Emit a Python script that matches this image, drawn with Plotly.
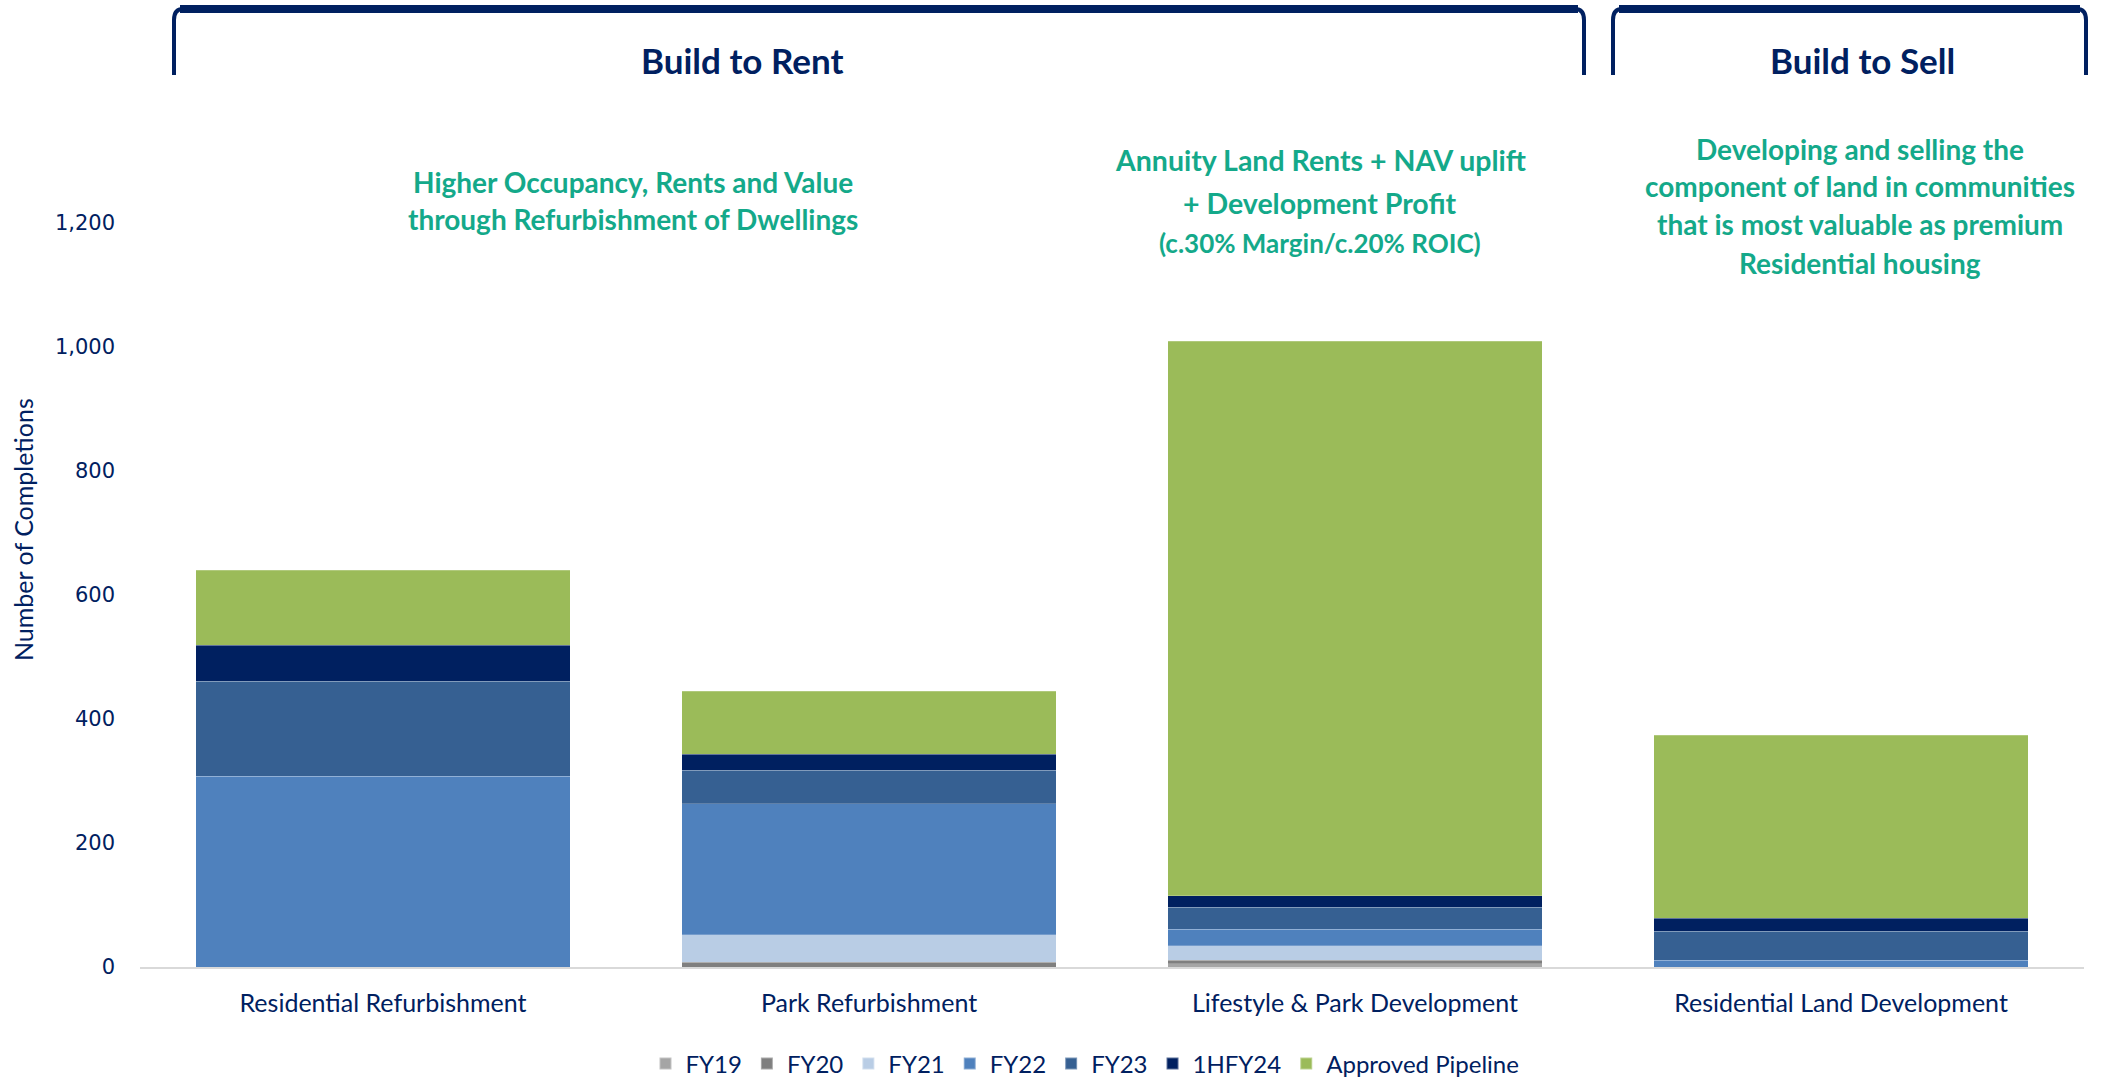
import plotly.graph_objects as go

# Completions by category (stacked by period)
categories = ["Residential Refurbishment", "Park Refurbishment",
              "Lifestyle & Park Development", "Residential Land Development"]
fy19 = [0, 0, 5, 0]
fy20 = [0, 8, 6, 0]
fy21 = [0, 44, 23, 0]
fy22 = [308, 211, 27, 11]
fy23 = [153, 54, 35, 47]
h1fy24 = [58, 26, 19, 21]
pipeline = [121, 102, 894, 295]

series_names = ["FY19", "FY20", "FY21", "FY22", "FY23", "1HFY24", "Approved Pipeline"]
series_values = [fy19, fy20, fy21, fy22, fy23, h1fy24, pipeline]
series_colors = ["#a5a5a5", "#7f7f7f", "#b9cde5", "#4f81bd", "#366092", "#002060", "#9bbb59"]

y_ticks = [0, 200, 400, 600, 800, 1000, 1200]
y_tick_text = ["0", "200", "400", "600", "800", "1,000", "1,200"]

group_labels = ["Build to Rent", "Build to Sell"]
note_rent = ["Higher Occupancy, Rents and Value", "through Refurbishment of Dwellings"]
note_dev = ["Annuity Land Rents + NAV uplift", "+ Development Profit", "(c.30% Margin/c.20% ROIC)"]
note_sell = ["Developing and selling the", "component of land in communities",
             "that is most valuable as premium", "Residential housing"]

W, H = 2103, 1078
ML, MR, MT, MB = 140, 19, 161, 111
PW, PH = W - ML - MR, H - MT - MB
NAVY = "#002060"
TEAL = "#14a98a"


def px_x(p):
    return (p - ML) / PW


def px_y(p):
    return (H - MB - p) / PH


fig = go.Figure()
for name, vals, col in zip(series_names, series_values, series_colors):
    fig.add_trace(go.Bar(
        x=categories, y=vals, name=name,
        marker=dict(color=col, line=dict(width=0.6, color="rgba(255,255,255,0.35)")),
        hoverinfo="name+y",
    ))

shapes = []
# group brackets across the top
for x0, x1 in [(174, 1584), (1613, 2086)]:
    path = (f"M {px_x(x0)},{px_y(75)} L {px_x(x0)},{px_y(20)} "
            f"Q {px_x(x0)},{px_y(9)} {px_x(x0 + 9)},{px_y(9)} "
            f"L {px_x(x1 - 9)},{px_y(9)} "
            f"Q {px_x(x1)},{px_y(9)} {px_x(x1)},{px_y(20)} L {px_x(x1)},{px_y(75)}")
    shapes.append(dict(type="path", xref="paper", yref="paper", path=path,
                       line=dict(color=NAVY, width=4)))
    shapes.append(dict(type="line", xref="paper", yref="paper",
                       x0=px_x(x0 + 6), x1=px_x(x1 - 6), y0=px_y(9), y1=px_y(9),
                       line=dict(color=NAVY, width=8)))

annotations = []
for text, cx in zip(group_labels, [742, 1862]):
    annotations.append(dict(text=f"<b>{text}</b>", x=px_x(cx), y=px_y(60),
                            xref="paper", yref="paper", showarrow=False,
                            xanchor="center", yanchor="middle",
                            font=dict(family="Lato", size=35, color=NAVY)))


def add_note(lines, cx, ys, sizes):
    for line, yy, sz in zip(lines, ys, sizes):
        annotations.append(dict(text=f"<b>{line}</b>", x=px_x(cx), y=px_y(yy),
                                xref="paper", yref="paper", showarrow=False,
                                xanchor="center", yanchor="middle",
                                font=dict(family="Lato", size=sz, color=TEAL)))


add_note(note_rent, 633, [182, 219], [28, 28])
add_note(note_dev, 1320, [160, 203, 243], [28.5, 28.5, 26])
add_note(note_sell, 1860, [149, 186, 224, 263], [28, 28, 28, 28])

annotations.append(dict(text="Number of Completions", textangle=-90,
                        x=px_x(23), y=px_y(530), xref="paper", yref="paper",
                        showarrow=False, xanchor="center", yanchor="middle",
                        font=dict(family="Lato", size=25, color=NAVY)))

fig.update_layout(
    width=W, height=H,
    margin=dict(l=ML, r=MR, t=MT, b=MB, autoexpand=False),
    barmode="stack", bargap=0.23,
    paper_bgcolor="white", plot_bgcolor="white",
    showlegend=True,
    legend=dict(orientation="h", traceorder="normal",
                x=px_x(1085), xanchor="center", y=px_y(1064), yanchor="middle",
                font=dict(family="Lato", size=24, color=NAVY),
                itemwidth=30, itemsizing="constant", bgcolor="rgba(0,0,0,0)"),
    shapes=shapes,
    annotations=annotations,
    xaxis=dict(showline=True, linecolor="#d9d9d9", linewidth=2,
               showgrid=False, zeroline=False, ticks="",
               ticklabelstandoff=13, automargin=False,
               tickfont=dict(family="Lato", size=25, color=NAVY)),
    yaxis=dict(range=[0, 1300], tickvals=y_ticks, ticktext=y_tick_text,
               showgrid=False, zeroline=False, showline=False, ticks="",
               ticklabelstandoff=24, automargin=False,
               tickfont=dict(family="DejaVu Sans", size=21, color=NAVY)),
)

fig.write_html("out.html")
